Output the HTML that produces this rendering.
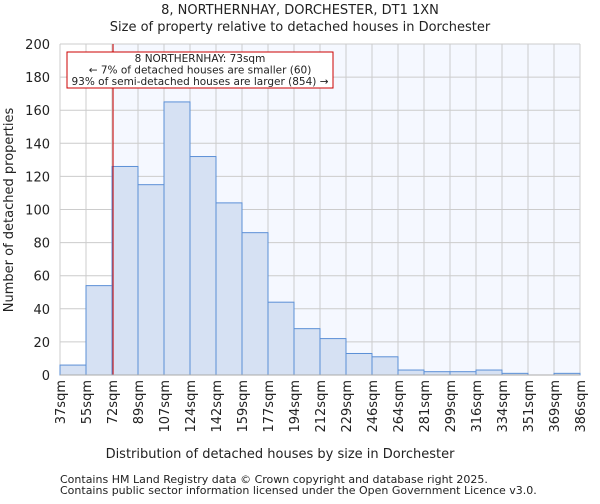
<!DOCTYPE html>
<html><head><meta charset="utf-8"><style>
body{margin:0;background:#fff;font-family:"DejaVu Sans","Liberation Sans",sans-serif;}
svg text{font-family:"DejaVu Sans","Liberation Sans",sans-serif;fill:#222;}
</style></head><body>
<svg id="c" width="600" height="500">
<text x="300" y="14" font-size="13" text-anchor="middle">8, NORTHERNHAY, DORCHESTER, DT1 1XN</text>
<text x="300" y="31" font-size="13" text-anchor="middle">Size of property relative to detached houses in Dorchester</text>
<g id="plot"></g>
<text x="280" y="458" font-size="13" text-anchor="middle">Distribution of detached houses by size in Dorchester</text>
<text transform="translate(13,210) rotate(-90)" font-size="13" text-anchor="middle">Number of detached properties</text>
<text x="60" y="483" font-size="11" fill="#444">Contains HM Land Registry data © Crown copyright and database right 2025.</text>
<text x="60" y="494" font-size="11" fill="#444">Contains public sector information licensed under the Open Government Licence v3.0.</text>
</svg>
<script>
const categories=["37sqm","55sqm","72sqm","89sqm","107sqm","124sqm","142sqm","159sqm","177sqm","194sqm","212sqm","229sqm","246sqm","264sqm","281sqm","299sqm","316sqm","334sqm","351sqm","369sqm","386sqm"];
const counts=[6,54,126,115,165,132,104,86,44,28,22,13,11,3,2,2,3,1,0,1];
const yTicks=[0,20,40,60,80,100,120,140,160,180,200];
const propertyBinPos=2.04;
const NS="http://www.w3.org/2000/svg";
const g=document.getElementById('plot');
const L=60,R=580,T=44,B=375,yMax=200;
const bw=(R-L)/counts.length;
const x=i=>L+i*bw;
const y=v=>B-(v/yMax)*(B-T);
function mk(t,a){const e=document.createElementNS(NS,t);for(const k in a)e.setAttribute(k,a[k]);g.appendChild(e);return e;}
const px=x(propertyBinPos);
let e=mk('rect',{x:px,y:T,width:R-px,height:B-T,fill:'#f5f8ff'});


yTicks.forEach(t=>{
 let l=mk('line',{x1:L,x2:R,y1:y(t),y2:y(t),stroke:'#cccccc','stroke-width':1});
 
 
 let tx=mk('text',{x:L-10,y:y(t)+5,'font-size':13,'text-anchor':'end'});tx.textContent=t;
 
 
});
categories.forEach((c,i)=>{
 let l=mk('line',{x1:x(i),x2:x(i),y1:T,y2:B,stroke:'#cccccc','stroke-width':1});
 
 
 let tx=mk('text',{transform:`translate(${x(i)+5},380) rotate(-90)`,'font-size':13,'text-anchor':'end'});tx.textContent=c;
 
 
});
counts.forEach((v,i)=>{
 let r=mk('rect',{x:x(i),y:y(v),width:bw,height:B-y(v),fill:'#d6e1f3',stroke:'#5b8fd6','stroke-width':1});
 
 
});
let rl=mk('line',{x1:px,x2:px,y1:T,y2:B,stroke:'#cc0000','stroke-width':1});


let ax=mk('line',{x1:L,x2:R,y1:B,y2:B,stroke:'#aaa'});


let bx=mk('rect',{x:67,y:52,width:266,height:36,fill:'#fff',stroke:'#cc0000','stroke-width':1});


["8 NORTHERNHAY: 73sqm","← 7% of detached houses are smaller (60)","93% of semi-detached houses are larger (854) →"].forEach((s,i)=>{
 let t=mk('text',{x:200,y:62+i*11.5,'font-size':10.5,'text-anchor':'middle'});t.textContent=s;
 
 
});
</script>
</body></html>
